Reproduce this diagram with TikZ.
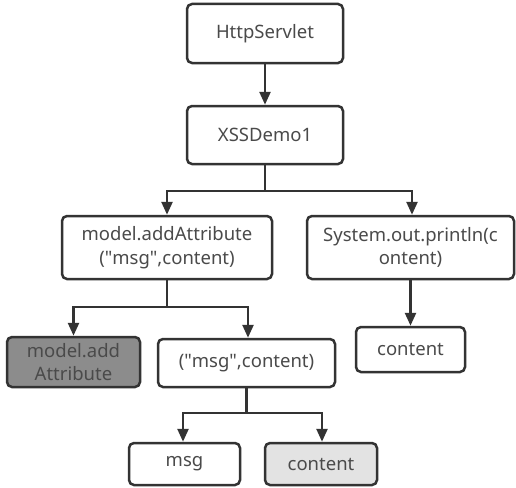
\documentclass[tikz,border=0pt]{standalone}
\usepackage{fontspec}
\setmainfont{Noto Sans}
\usetikzlibrary{arrows.meta}
\definecolor{ink}{HTML}{333333}
\definecolor{txt}{HTML}{4A4A4A}
\definecolor{darkfill}{HTML}{8C8C8C}
\definecolor{lightfill}{HTML}{E3E3E3}
\newcommand{\dq}{\textquotedbl}
\tikzset{
  box/.style={draw=ink, line width=2.5pt, rounded corners=5pt, fill=white,
    text=txt, align=center, inner sep=1pt,
    font=\fontsize{18.5}{23.5}\selectfont},
  conn/.style={draw=ink, line width=2.5pt},
  arr/.style={conn, -{Triangle[length=13pt,width=11pt]}},
}
\begin{document}
\begin{tikzpicture}[x=1pt,y=-1pt]
  \useasboundingbox (0,0) rectangle (516,487);
  % tree of nodes
  \node[box, minimum width=156pt, minimum height=59pt] (hs)   at (265,33.5) {HttpServlet};
  \node[box, minimum width=156pt, minimum height=58pt] (xss)  at (265,135)  {XSSDemo1};
  \node[box, minimum width=210pt, minimum height=63pt] (mod)  at (167,247.5) {model.addAttribute\\(\dq msg\dq,content)};
  \node[box, minimum width=207pt, minimum height=63pt] (sys)  at (410.5,247.5) {System.out.println(c\\ontent)};
  \node[box, minimum width=109pt, minimum height=45pt] (cnt1) at (410.5,349.5) {content};
  \node[box, minimum width=133pt, minimum height=50pt, fill=darkfill] (madd) at (73.5,362) {model.add\\Attribute};
  \node[box, minimum width=177pt, minimum height=48pt] (msgc) at (246.5,363) {(\dq msg\dq,content)};
  \node[box, minimum width=111pt, minimum height=42pt] (msg)  at (184.5,464) {msg};
  \node[box, minimum width=112pt, minimum height=42pt, fill=lightfill] (cnt2) at (321,464) {content};

  % branch points
  \coordinate (j1) at (265,191);
  \coordinate (j2) at (167,307);
  \coordinate (j3) at (246.5,413);

  % connectors
  \draw[arr] (hs.south) -- (xss.north);
  \draw[conn] (xss.south) -- (j1);
  \draw[arr] (j1) -| (mod.north);
  \draw[arr] (j1) -| ([xshift=1.5pt]sys.north);
  \draw[arr] (sys.south) -- (cnt1.north);
  \draw[conn] (mod.south) -- (j2);
  \draw[arr] (j2) -| (madd.north);
  \draw[arr] (j2) -| ([xshift=1.5pt]msgc.north);
  \draw[conn] (msgc.south) -- (j3);
  \draw[arr] (j3) -| ([xshift=-1.5pt]msg.north);
  \draw[arr] (j3) -| ([xshift=1pt]cnt2.north);
\end{tikzpicture}
\end{document}
